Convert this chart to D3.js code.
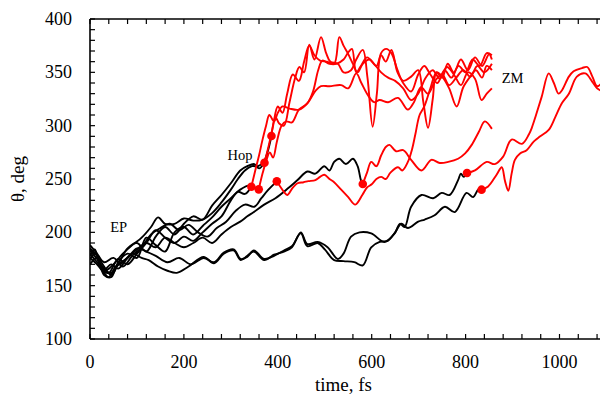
<!DOCTYPE html>
<html>
<head>
<meta charset="utf-8">
<script src="https://cdn.jsdelivr.net/npm/d3@7"></script>
<style>
  html, body { margin: 0; padding: 0; background: #fff; }
  svg { display: block; }
  text { font-family: "Liberation Serif", "Times New Roman", serif; fill: #000; }
</style>
</head>
<body>
<svg id="chart" width="600" height="399"></svg>
<script>
// Axis ticks
const xTicks = [0, 200, 400, 600, 800, 1000];
const yTicks = [100, 150, 200, 250, 300, 350, 400];

// Hop events: time (fs) and angle (deg) where each trajectory leaves the EP basin
const hopTimes  = [386.5, 371.6, 343.7, 359.4, 397.9, 581.0, 803.0, 834.0];
const hopAngles = [290.3, 265.3, 242.8, 240.3, 247.8, 245.3, 255.6, 240.0];

// Trajectories before the hop, [time, angle]
const pre1 = [[0,178],[10,184],[20,172],[35,165],[50,170],[70,180],[90,188],[110,195],[130,205],[145,214],[160,208],[180,208],[200,213],[220,211],[240,212],[260,218],[280,228],[300,240],[315,250],[330,258],[345,262],[358,262],[370,266],[378,275]];
const pre2 = [[0,185],[15,178],[30,168],[45,160],[60,170],[80,185],[100,190],[120,182],[140,196],[160,205],[180,198],[200,208],[220,215],[240,212],[260,225],[280,235],[300,246],[320,258],[335,262],[350,264],[360,260]];
const pre3 = [[0,175],[12,180],[25,165],[40,162],[60,175],[80,170],[100,180],[120,190],[140,202],[160,195],[180,190],[200,196],[220,192],[240,200],[260,208],[280,215],[300,230],[315,238],[330,236]];
const pre4 = [[0,170],[15,176],[30,160],[45,158],[60,172],[80,180],[100,176],[120,195],[140,188],[160,182],[180,200],[200,205],[220,198],[240,206],[260,214],[280,224],[300,232],[320,240],[340,244],[350,242]];
const pre5 = [[0,188],[15,180],[30,172],[50,176],[70,168],[90,178],[110,186],[130,198],[150,204],[170,208],[190,202],[210,207],[230,200],[250,196],[270,204],[290,210],[310,220],[330,226],[350,224],[365,232],[380,240]];
const pre6 = [[0,180],[15,172],[30,165],[45,170],[60,166],[80,176],[100,184],[120,190],[140,186],[160,195],[180,190],[200,186],[220,190],[240,195],[260,190],[280,198],[300,205],[320,210],[335,215],[349,219],[371,226],[395,232],[421,241],[442,249],[463,257],[480,255],[499,262],[510,258],[520,266],[531,269],[545,264],[560,269],[570,262],[577,249]];
const pre7 = [[0,176],[15,170],[30,162],[40,158],[55,168],[70,172],[90,180],[110,176],[125,174],[145,168],[165,164],[185,162],[210,168],[242,177],[264,171],[285,180],[306,183],[321,174],[335,178],[349,182],[371,174],[392,179],[413,182],[430,186],[449,200],[463,189],[485,191],[506,186],[528,175],[540,180],[556,196],[574,200],[599,199],[627,191],[649,199],[660,208],[670,205],[684,224],[706,235],[731,232],[749,237],[766,235],[784,249],[790,255],[796,252]];
const pre8 = [[0,183],[15,175],[30,165],[45,162],[60,170],[80,176],[100,185],[120,182],[140,178],[165,172],[190,176],[215,170],[242,176],[264,172],[285,181],[306,184],[321,175],[335,177],[349,183],[371,175],[392,178],[413,183],[430,187],[449,199],[463,187],[485,190],[500,184],[520,174],[540,173],[563,172],[581,169],[599,186],[617,191],[634,192],[650,200],[663,208],[677,204],[699,210],[713,212],[734,216],[756,224],[777,219],[802,237],[816,233],[827,240]];

// Trajectories after the hop, [time, angle]
const post1 = [[395,308],[403,302],[413,300],[425,322],[437,345],[446,355],[456,350],[467,376],[478,362],[492,383],[503,368],[512,360],[528,358],[540,350],[556,352],[567,362],[581,371],[591,345],[602,299],[611,330],[620,368],[631,372],[642,368],[655,352],[667,340],[684,332],[699,348],[712,356],[725,348],[740,340],[755,352],[770,345],[785,356],[800,350],[815,362],[830,356],[845,368],[856,366]];
const post2 = [[380,280],[390,300],[400,318],[410,312],[420,330],[432,348],[445,342],[456,360],[467,375],[478,366],[490,361],[505,360],[520,358],[531,383],[540,375],[549,368],[560,358],[570,350],[581,358],[595,362],[610,356],[620,366],[630,360],[642,371],[655,350],[667,342],[684,346],[699,352],[710,322],[720,298],[730,325],[738,350],[750,345],[762,358],[775,350],[790,362],[805,352],[820,364],[835,356],[850,367],[856,362]];
const post3 = [[352,258],[360,272],[367,286],[375,300],[382,310],[392,304],[400,312],[410,318],[425,316],[445,315],[463,321],[481,333],[492,337],[510,337],[535,338],[550,335],[567,349],[578,340],[590,330],[605,322],[617,324],[635,322],[656,326],[677,315],[690,322],[705,336],[720,330],[735,342],[750,348],[765,338],[780,345],[795,352],[810,346],[825,356],[840,350],[856,358]];
const post4 = [[368,256],[376,268],[383,275],[390,270],[398,285],[408,300],[418,304],[430,303],[445,315],[463,321],[475,332],[486,352],[495,361],[510,358],[525,358],[540,362],[549,368],[558,372],[567,350],[577,356],[590,364],[605,358],[620,350],[635,345],[650,342],[667,335],[684,324],[699,330],[715,345],[730,352],[745,344],[760,355],[775,348],[790,338],[805,350],[820,344],[834,324],[845,330],[856,335]];
const post5 = [[405,243],[413,238],[420,235],[432,242],[442,246],[455,247],[465,248],[480,249],[490,252],[499,254],[510,250],[520,247],[535,240],[550,233],[565,226],[580,235],[590,242],[600,245],[610,250],[620,252],[630,250],[640,256],[656,261],[665,258],[677,266],[686,278],[693,292],[702,310],[712,318],[725,335],[738,350],[750,346],[765,335],[781,318],[795,336],[810,346],[822,352],[835,345],[845,356],[856,352]];
const post6 = [[590,256],[599,266],[610,262],[620,272],[630,280],[638,282],[652,276],[667,277],[684,268],[706,258],[727,268],[745,265],[763,266],[784,269],[799,274],[813,282],[828,294],[841,304],[856,297]];
const post7 = [[820,258],[845,266],[862,264],[880,271],[898,287],[920,283],[935,292],[941,298],[950,310],[962,327],[977,349],[988,340],[998,330],[1005,333],[1020,346],[1030,351],[1048,354],[1059,355],[1070,346],[1080,337],[1090,340]];
const post8 = [[848,243],[866,254],[877,261],[884,248],[891,239],[898,255],[905,268],[916,274],[930,277],[945,285],[959,290],[977,296],[991,308],[1005,321],[1020,330],[1037,346],[1055,349],[1070,341],[1080,335],[1092,332]];

const preTracks  = [pre1, pre2, pre3, pre4, pre5, pre6, pre7, pre8];
const postTracks = [post1, post2, post3, post4, post5, post6, post7, post8];

// Axis-label and annotation text
const xTitle = "time, fs";
const yTitle = "θ, deg";
const notes = [
  { text: "EP",  t: 43,  a: 200 },
  { text: "Hop", t: 293, a: 268 },
  { text: "ZM",  t: 877, a: 340 }
];

const svg = d3.select("#chart");
const W = 600, H = 399;
const plot = { left: 90, top: 19, bottom: 339 };

const x = d3.scaleLinear().domain([0, 1100]).range([plot.left, plot.left + 0.4695 * 1100]);
const y = d3.scaleLinear().domain([100, 400]).range([plot.bottom, plot.top]);

const clip = svg.append("clipPath").attr("id", "plotclip")
  .append("rect")
  .attr("x", plot.left).attr("y", plot.top)
  .attr("width", W - plot.left).attr("height", plot.bottom - plot.top);

// Minor/major ticks, all drawn pointing into the plot
const xMinor = d3.range(0, 1101, 40);
const yMinor = d3.range(100, 401, 10);
const tickLen = 5;
const ticks = svg.append("g").attr("stroke", "#000").attr("stroke-width", 1.2);
xMinor.forEach(v => {
  ticks.append("line").attr("x1", x(v)).attr("x2", x(v)).attr("y1", plot.bottom).attr("y2", plot.bottom - tickLen);
  ticks.append("line").attr("x1", x(v)).attr("x2", x(v)).attr("y1", plot.top).attr("y2", plot.top + tickLen);
});
yMinor.forEach(v => {
  ticks.append("line").attr("x1", plot.left).attr("x2", plot.left + tickLen).attr("y1", y(v)).attr("y2", y(v));
});

// Frame (left, top, bottom)
const frame = svg.append("g").attr("stroke", "#000").attr("stroke-width", 1.6).attr("fill", "none");
frame.append("line").attr("x1", plot.left).attr("x2", plot.left).attr("y1", plot.top).attr("y2", plot.bottom);
frame.append("line").attr("x1", plot.left).attr("x2", W).attr("y1", plot.top).attr("y2", plot.top);
frame.append("line").attr("x1", plot.left).attr("x2", W).attr("y1", plot.bottom).attr("y2", plot.bottom);

// Tick labels
svg.append("g").selectAll("text").data(xTicks).join("text")
  .attr("x", d => x(d)).attr("y", plot.bottom + 29)
  .attr("text-anchor", "middle").attr("font-size", 18)
  .text(d => d);
svg.append("g").selectAll("text").data(yTicks).join("text")
  .attr("x", plot.left - 18).attr("y", d => y(d) + 6)
  .attr("text-anchor", "end").attr("font-size", 18)
  .text(d => d);

// Axis titles
svg.append("text").attr("x", x(540)).attr("y", 391)
  .attr("text-anchor", "middle").attr("font-size", 19).text(xTitle);
svg.append("text")
  .attr("transform", `translate(24,${y(250)}) rotate(-90)`)
  .attr("text-anchor", "middle").attr("font-size", 19).text(yTitle);

// Trajectories
const line = d3.line()
  .x(d => x(d[0])).y(d => y(d[1]))
  .curve(d3.curveCatmullRom.alpha(0.5));

const g = svg.append("g").attr("clip-path", "url(#plotclip)");
const hops = hopTimes.map((t, i) => [t, hopAngles[i]]);

g.append("g").selectAll("path").data(preTracks).join("path")
  .attr("d", (d, i) => line(d.concat([hops[i]])))
  .attr("fill", "none").attr("stroke", "#000").attr("stroke-width", 1.9)
  .attr("stroke-linejoin", "round");

g.append("g").selectAll("path").data(postTracks).join("path")
  .attr("d", (d, i) => line([hops[i]].concat(d)))
  .attr("fill", "none").attr("stroke", "#ff0000").attr("stroke-width", 1.9)
  .attr("stroke-linejoin", "round");

g.append("g").selectAll("circle").data(hops).join("circle")
  .attr("cx", d => x(d[0])).attr("cy", d => y(d[1])).attr("r", 4.3)
  .attr("fill", "#ff0000");

// Annotations
svg.append("g").selectAll("text").data(notes).join("text")
  .attr("x", d => x(d.t)).attr("y", d => y(d.a))
  .attr("font-size", 14.5).text(d => d.text);
</script>
</body>
</html>
